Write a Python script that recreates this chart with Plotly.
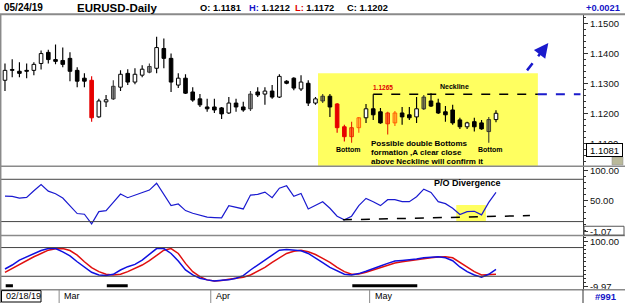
import plotly.graph_objects as go
import pandas as pd

FONT = "Liberation Sans, Arial, sans-serif"
W, H = 625, 305
PLOT_W = 583  # width of the drawing area (right axis column follows)

# ---------------- data ----------------
symbol = "EURUSD-Daily"
start_label = "02/18/19"
dates = pd.bdate_range("2019-02-19", "2019-05-24")

opens = [1.1312, 1.1348, 1.1342, 1.1345, 1.1345, 1.1368, 1.1405, 1.1381, 1.1378, 1.1385,
         1.1345, 1.1319, 1.1312, 1.1190, 1.1240, 1.1250, 1.1289, 1.1335, 1.1306, 1.1329,
         1.1339, 1.1352, 1.1418, 1.1385, 1.1296, 1.1319, 1.1273, 1.1250, 1.1223, 1.1223,
         1.1220, 1.1203, 1.1236, 1.1223, 1.1217, 1.1273, 1.1266, 1.1276, 1.1256, 1.1309,
         1.1319, 1.1283, 1.1302, 1.1236, 1.1243, 1.1259, 1.1233, 1.1157, 1.1124, 1.1154,
         1.1187, 1.1217, 1.1207, 1.1167, 1.1170, 1.1203, 1.1197, 1.1190, 1.1217, 1.1243,
         1.1236, 1.1207, 1.1213, 1.1180, 1.1157, 1.1174, 1.1170, 1.1141, 1.1181]
highs = [1.1368, 1.1382, 1.1372, 1.1368, 1.1372, 1.1411, 1.1414, 1.1431, 1.1421, 1.1405,
         1.1355, 1.1335, 1.1325, 1.1250, 1.1263, 1.1312, 1.1345, 1.1349, 1.1352, 1.1362,
         1.1368, 1.1457, 1.1451, 1.1401, 1.1335, 1.1332, 1.1289, 1.1266, 1.1250, 1.1250,
         1.1223, 1.1256, 1.1250, 1.1240, 1.1276, 1.1289, 1.1289, 1.1296, 1.1332, 1.1312,
         1.1322, 1.1329, 1.1312, 1.1256, 1.1266, 1.1266, 1.1236, 1.1164, 1.1174, 1.1190,
         1.1233, 1.1265, 1.1220, 1.1207, 1.1210, 1.1223, 1.1223, 1.1256, 1.1263, 1.1269,
         1.1250, 1.1226, 1.1230, 1.1187, 1.1174, 1.1187, 1.1180, 1.1190, 1.1212]
lows = [1.1276, 1.1322, 1.1322, 1.1319, 1.1329, 1.1348, 1.1368, 1.1365, 1.1355, 1.1309,
        1.1289, 1.1289, 1.1174, 1.1187, 1.1223, 1.1246, 1.1276, 1.1296, 1.1299, 1.1322,
        1.1335, 1.1335, 1.1352, 1.1273, 1.1286, 1.1266, 1.1240, 1.1223, 1.1207, 1.1203,
        1.1183, 1.1200, 1.1207, 1.1207, 1.1210, 1.1256, 1.1230, 1.1250, 1.1253, 1.1299,
        1.1279, 1.1276, 1.1226, 1.1230, 1.1236, 1.1190, 1.1137, 1.1108, 1.1104, 1.1137,
        1.1170, 1.1180, 1.1167, 1.1131, 1.1160, 1.1164, 1.1180, 1.1170, 1.1213, 1.1223,
        1.1200, 1.1174, 1.1164, 1.1150, 1.1150, 1.1141, 1.1147, 1.1104, 1.1172]
closes = [1.1345, 1.1345, 1.1335, 1.1342, 1.1365, 1.1401, 1.1381, 1.1375, 1.1365, 1.1342,
          1.1309, 1.1309, 1.1187, 1.1243, 1.1247, 1.1292, 1.1332, 1.1306, 1.1332, 1.1349,
          1.1358, 1.1421, 1.1385, 1.1306, 1.1319, 1.1269, 1.1246, 1.1230, 1.1217, 1.1213,
          1.1200, 1.1236, 1.1223, 1.1213, 1.1266, 1.1263, 1.1276, 1.1256, 1.1325, 1.1302,
          1.1286, 1.1306, 1.1236, 1.1250, 1.1259, 1.1223, 1.1154, 1.1124, 1.1154, 1.1187,
          1.1217, 1.1197, 1.1170, 1.1203, 1.1203, 1.1190, 1.1187, 1.1217, 1.1256, 1.1226,
          1.1203, 1.1197, 1.1170, 1.1157, 1.1170, 1.1157, 1.1150, 1.1181, 1.1202]
styles = ["up", "dn", "dn", "dn", "up", "up", "dn", "dn", "dn", "dn",
          "dn", "dn", "red", "up", "up", "gray", "up", "dn", "up", "up",
          "gray", "up", "dn", "dn", "up", "dn", "dn", "dn", "dn", "dn",
          "dn", "up", "dn", "dn", "gray", "dn", "up", "dn", "up", "dn",
          "dn", "up", "dn", "up", "gray", "dn", "red", "red", "redt", "redh",
          "up", "dn", "dn", "redt", "redh", "dn", "dn", "up", "gray", "dn",
          "dn", "dn", "dn", "dn", "up", "dn", "dn", "gray", "up"]

neckline = 1.1265
neckline_start = 51
price_ticks = [1.11, 1.12, 1.13, 1.14, 1.15]
price_marker = 1.1081

po_values = [57.2, 56.7, 53.9, 55.0, 66.0, 76.3, 65.4, 61.0, 53.9, 41.4,
             28.3, 27.2, 11.3, 31.5, 33.2, 46.8, 60.5, 54.5, 58.9, 63.2,
             67.1, 78.5, 60.5, 41.4, 44.1, 33.2, 28.8, 25.5, 22.3, 21.7,
             21.2, 41.4, 39.2, 35.9, 58.9, 60.0, 63.8, 54.5, 70.3, 74.2,
             56.7, 61.6, 35.9, 41.4, 47.9, 37.0, 23.9, 17.9, 23.9, 41.4,
             53.4, 47.9, 41.4, 51.2, 51.2, 47.9, 47.9, 56.1, 68.7, 63.2,
             47.9, 44.7, 37.0, 26.6, 31.5, 32.1, 26.1, 46.8, 63.2]
po_ticks = [100, 50, -1.07]
po_levels = [85, 15]
po_trend = ([46.8, 72.7], [17.9, 24.9])

stoch_k = [32.7, 42.4, 54.5, 61.7, 69.0, 77.8, 82.6, 82.6, 74.6, 64.9,
           50.4, 38.4, 24.7, 18.2, 16.6, 19.8, 30.3, 38.4, 44.0, 54.5,
           68.1, 82.6, 82.6, 70.6, 52.1, 30.3, 18.2, 10.2, 6.2, 3.7,
           5.4, 6.2, 10.2, 16.6, 30.3, 42.4, 54.5, 64.9, 78.6, 80.2,
           78.6, 77.0, 70.6, 60.1, 48.0, 36.8, 27.9, 19.8, 18.2, 21.5,
           27.1, 34.3, 40.0, 46.4, 52.1, 53.7, 54.5, 56.9, 60.1, 61.7,
           62.5, 60.1, 52.9, 37.6, 26.3, 18.2, 12.6, 19.8, 31.9]
stoch_d = [24.7, 34.3, 44.8, 54.5, 62.5, 70.6, 78.6, 81.8, 82.6, 77.8,
           66.6, 50.4, 36.0, 26.3, 19.8, 18.2, 19.8, 26.3, 34.3, 42.4,
           52.9, 64.9, 78.6, 82.6, 70.6, 46.4, 26.3, 14.2, 6.2, 3.7,
           4.5, 7.8, 10.2, 12.6, 18.2, 27.9, 36.8, 48.8, 60.1, 70.6,
           76.2, 78.6, 74.6, 68.1, 58.5, 48.8, 36.8, 26.3, 19.8, 20.6,
           24.7, 30.3, 34.3, 41.6, 47.2, 50.4, 52.9, 56.1, 58.5, 60.1,
           61.7, 62.5, 60.1, 48.8, 36.0, 26.3, 18.2, 18.2, 19.8]
stoch_ticks = [100, -9.97]
stoch_levels = [85, 15]
stoch_spans = [(0.1, 1.1), (14.1, 17.0), (48.1, 57.1)]
bar_id = "#991"

note_lines = ["Possible double Bottoms", "formation ,A clear close", "above Neckline will confirm it"]

# ---------------- helpers ----------------
idx = list(range(len(closes)))
X_RANGE = [-0.69, 80.05]


def pp(py):  # pixel row -> paper y
    return 1 - py / H


def px(x):  # pixel column -> paper x
    return x / PLOT_W


STY = {
    "up": ("white", "black", "black"),
    "dn": ("black", "black", "black"),
    "gray": ("rgba(70,70,70,0.55)", "rgba(45,45,45,0.9)", "rgba(45,45,45,0.9)"),
    "red": ("#e60000", "#e60000", "#e60000"),
    "redt": ("rgba(255,30,0,0.55)", "rgba(230,40,0,0.95)", "rgba(230,40,0,0.95)"),
    "redh": ("rgba(255,110,0,0.2)", "rgba(255,90,0,0.95)", "rgba(255,90,0,0.95)"),
}
fills = [STY[s][0] for s in styles]
lines_c = [STY[s][1] for s in styles]
wicks_c = [STY[s][2] for s in styles]

fig = go.Figure()

# wicks
fig.add_trace(go.Bar(x=idx, y=[h - l for h, l in zip(highs, lows)], base=lows, width=0.16,
                     marker=dict(color=wicks_c, line=dict(width=0)), xaxis="x", yaxis="y",
                     hoverinfo="skip"))
# bodies
fig.add_trace(go.Bar(x=idx, y=[max(abs(c - o), 0.00004) for o, c in zip(opens, closes)],
                     base=[min(o, c) for o, c in zip(opens, closes)], width=0.5,
                     marker=dict(color=fills, line=dict(color=lines_c, width=1)),
                     xaxis="x", yaxis="y", hoverinfo="skip"))

# P/O oscillator
fig.add_trace(go.Scatter(x=idx, y=po_values, mode="lines", line=dict(color="#1a1ad0", width=1.2),
                         xaxis="x2", yaxis="y2", hoverinfo="skip"))
fig.add_trace(go.Scatter(x=po_trend[0], y=po_trend[1], mode="lines",
                         line=dict(color="black", width=1.5, dash="dash"),
                         xaxis="x2", yaxis="y2", hoverinfo="skip"))

# stochastic
fig.add_trace(go.Scatter(x=idx, y=stoch_d, mode="lines", line=dict(color="#e01010", width=1.5),
                         xaxis="x3", yaxis="y3", hoverinfo="skip"))
fig.add_trace(go.Scatter(x=idx, y=stoch_k, mode="lines", line=dict(color="#1010e0", width=1.5),
                         xaxis="x3", yaxis="y3", hoverinfo="skip"))
sx, sy = [], []
for a, b in stoch_spans:
    sx += [a, b, None]
    sy += [-8.4, -8.4, None]
fig.add_trace(go.Scatter(x=sx, y=sy, mode="lines", line=dict(color="black", width=3),
                         xaxis="x3", yaxis="y3", hoverinfo="skip"))

YELLOW = "#ffff60"
shapes = []
# yellow boxes
shapes.append(dict(type="rect", xref="x", yref="y", x0=43.35, x1=73.8, y0=1.1025, y1=1.1335,
                   fillcolor=YELLOW, line=dict(width=0), layer="below"))
shapes.append(dict(type="rect", xref="x2", yref="y2", x0=62.5, x1=66.6, y0=14.6, y1=42.5,
                   fillcolor=YELLOW, line=dict(width=0), layer="below"))
# neckline
shapes.append(dict(type="line", xref="x", yref="y", x0=neckline_start, x1=73.8, y0=neckline, y1=neckline,
                   line=dict(color="black", width=1.5, dash="dash")))
shapes.append(dict(type="line", xref="x", yref="y", x0=73.8, x1=79.7, y0=neckline, y1=neckline,
                   line=dict(color="#1a1acc", width=2, dash="dash")))
# arrow shaft
shapes.append(dict(type="line", xref="x", yref="y", x0=72.3, x1=74.9, y0=1.1345, y1=1.1425,
                   line=dict(color="#1a1acc", width=2.5, dash="dash")))
# level lines
for lv in po_levels:
    shapes.append(dict(type="line", xref="paper", yref="y2", x0=0, x1=1, y0=lv, y1=lv,
                       line=dict(color="#444", width=1)))
for lv in stoch_levels:
    shapes.append(dict(type="line", xref="paper", yref="y3", x0=0, x1=1, y0=lv, y1=lv,
                       line=dict(color="#444", width=1)))
# frame lines
GR = "#8a8a8a"
for yy, wd in [(13.5, 2), (167, 1.5), (236.8, 1.5), (291.5, 1.5)]:
    shapes.append(dict(type="line", xref="paper", yref="paper", x0=0, x1=px(W), y0=pp(yy), y1=pp(yy),
                       line=dict(color=GR, width=wd)))
shapes.append(dict(type="line", xref="paper", yref="paper", x0=px(0.7), x1=px(0.7), y0=pp(305), y1=pp(13.5),
                   line=dict(color=GR, width=1.5)))
shapes.append(dict(type="line", xref="paper", yref="paper", x0=1, x1=1, y0=pp(305), y1=pp(291.5),
                   line=dict(color="#333", width=1)))
# month separators in date strip
for i in range(1, len(dates)):
    if dates[i].month != dates[i - 1].month:
        shapes.append(dict(type="line", xref="x3", yref="paper", x0=i - 0.5, x1=i - 0.5,
                           y0=pp(305), y1=pp(291.5), line=dict(color=GR, width=1)))
# start-date box in the date strip
shapes.append(dict(type="rect", xref="paper", yref="paper", x0=px(1.5), x1=px(41), y0=pp(304), y1=pp(292.5),
                   line=dict(color="black", width=1)))
# small icon under the price marker
shapes.append(dict(type="rect", xref="paper", yref="paper", x0=px(612), x1=px(623), y0=pp(165.5), y1=pp(157.5),
                   fillcolor="#b9b99a", line=dict(color="#888", width=0.5)))
shapes.append(dict(type="rect", xref="paper", yref="paper", x0=px(584), x1=px(624), y0=pp(236.5), y1=pp(227.5),
                   line=dict(color="#555", width=1)))

ann = []


def txt(text, x, y, xref="paper", yref="paper", size=9, color="black", bold=True, xanchor="left",
        yanchor="middle", **kw):
    ann.append(dict(text=text, x=x, y=y, xref=xref, yref=yref, showarrow=False, xanchor=xanchor,
                    yanchor=yanchor,
                    font=dict(family=FONT, size=size, color=color, weight="bold" if bold else "normal"),
                    **kw))


# header
last = len(closes) - 1
BLUE = "#1515c8"
REDT = "#e00000"
txt(dates[last].strftime("%m/%d/%y"), px(2), pp(7), size=10)
txt(symbol, px(75), pp(7.5), size=11.5)
txt(f"O: {opens[last]:.4f}", px(198), pp(7), size=9.3)
txt(f"<span style='color:{BLUE}'>H:</span> {highs[last]:.4f}", px(247), pp(7), size=9.3)
txt(f"<span style='color:{REDT}'>L:</span> {lows[last]:.4f}", px(293), pp(7), size=9.3)
txt(f"C: {closes[last]:.4f}", px(345), pp(7), size=9.3)
txt(f"{closes[last] - closes[last - 1]:+.4f}", px(622), pp(7), size=9.3, color=BLUE, xanchor="right")

# main panel notes
txt(f"{neckline:.4f}", neckline_start - 0.25, neckline, xref="x", yref="y", size=6.5, color=REDT,
    yanchor="bottom", yshift=1)
txt("Neckline", 62.3, neckline, xref="x", yref="y", size=7, xanchor="center", yanchor="bottom", yshift=2)
for bx in (47.6, 67.2):
    txt("Bottom", bx, 1.1081, xref="x", yref="y", size=7, xanchor="center")
for k, (line, py) in enumerate(zip(note_lines, (144, 153, 162))):
    txt(line, 50.4, 1.12 + (114 - py) / 3030, xref="x", yref="y", size=8)
# arrow head
ann.append(dict(text="", x=75.25, y=1.1436, ax=74.7, ay=1.1419, xref="x", yref="y", axref="x", ayref="y",
                showarrow=True, arrowhead=2, arrowsize=1.3, arrowwidth=2.2, arrowcolor="#1a1acc"))
# price marker box
ann.append(dict(text=f"{price_marker:.4f}", x=px(604), y=price_marker, xref="paper", yref="y", showarrow=False,
                xanchor="center", font=dict(family=FONT, size=9.5, color="black"),
                bgcolor="white", bordercolor="black", borderwidth=1, borderpad=0.5, width=34))

# panel 2
txt("P/O Divergence", 64.1, 78.5, xref="x2", yref="y2", size=9, xanchor="center")

# date strip
txt(start_label, px(3.5), pp(298.3), size=9, bold=False)
for i in range(1, len(dates)):
    if dates[i].month != dates[i - 1].month:
        txt(dates[i].strftime("%b"), i - 0.5, pp(298.3), xref="x3", yref="paper", size=9, bold=False, xshift=3)
txt(bar_id, px(606), pp(298.3), size=9.5, color=BLUE, xanchor="center")

tickfont = dict(family=FONT, size=9.5, color="#111")
common_y = dict(side="right", showline=True, linecolor="#333", linewidth=1, ticks="outside", ticklen=4,
                tickcolor="#333", showgrid=False, zeroline=False, tickfont=tickfont, fixedrange=True)
common_x = dict(range=X_RANGE, visible=False, showgrid=False, zeroline=False, fixedrange=True)

fig.update_layout(
    width=W, height=H, margin=dict(l=0, r=W - PLOT_W, t=0, b=0),
    paper_bgcolor="white", plot_bgcolor="white", showlegend=False, barmode="overlay",
    font=dict(family=FONT),
    xaxis=dict(domain=[0, 1], anchor="y", **common_x),
    xaxis2=dict(domain=[0, 1], anchor="y2", **common_x),
    xaxis3=dict(domain=[0, 1], anchor="y3", **common_x),
    yaxis=dict(domain=[pp(167), pp(14)], range=[1.10251, 1.15300], anchor="x",
               tickvals=price_ticks, ticktext=[f"{v:.4f}" for v in price_ticks],
               minor=dict(tickmode="linear", tick0=1.10, dtick=0.002, ticks="outside", ticklen=2,
                          tickcolor="#333"), **common_y),
    yaxis2=dict(domain=[pp(236.5), pp(166.5)], range=[-7.5, 107.2], anchor="x2",
                tickvals=po_ticks, ticktext=[f"{v:.2f}" for v in po_ticks],
                minor=dict(tickmode="linear", tick0=0, dtick=10, ticks="outside", ticklen=2,
                           tickcolor="#333"), **common_y),
    yaxis3=dict(domain=[pp(291.5), pp(237)], range=[-17.6, 114.0], anchor="x3",
                tickvals=stoch_ticks, ticktext=[f"{v:.2f}" for v in stoch_ticks],
                minor=dict(tickmode="linear", tick0=0, dtick=10, ticks="outside", ticklen=2,
                           tickcolor="#333"), **common_y),
    shapes=shapes, annotations=ann,
)

fig.write_html("out.html", config=dict(displayModeBar=False, staticPlot=True))
